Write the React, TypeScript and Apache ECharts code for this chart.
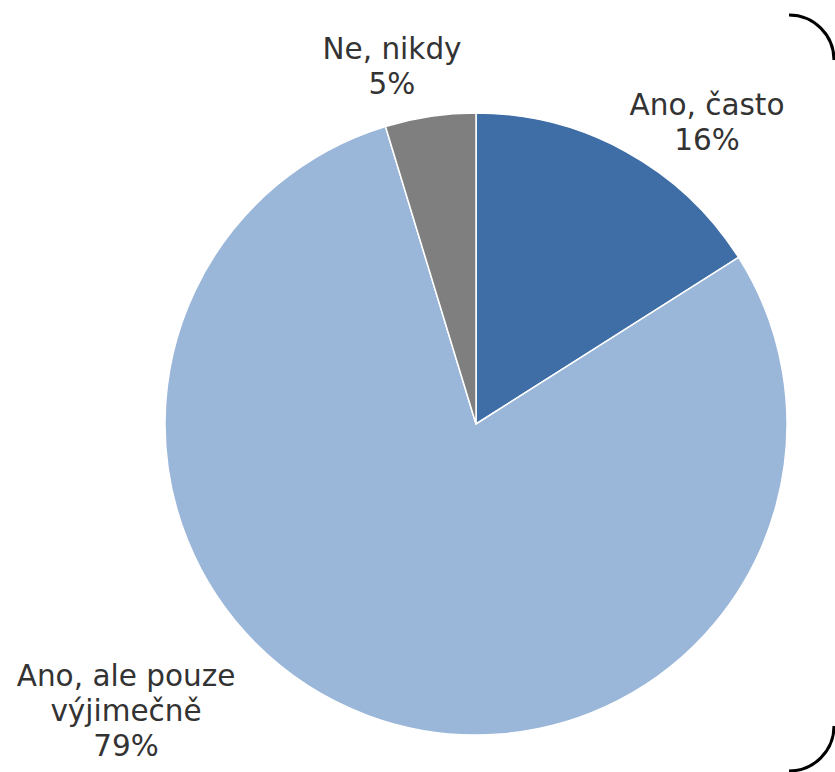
import React, { useEffect, useRef } from "react";
import * as echarts from "echarts";

const categories = ["Ano, často", "Ano, ale pouze\nvýjimečně", "Ne, nikdy"];
const values = [16.0, 79.3, 4.7];
const colors = ["#3F6EA6", "#9AB6D9", "#7F7F7F"];
const labelSpots = [
  [707, 122],
  [126, 711],
  [392, 66],
];

export default function App() {
  const ref = useRef<HTMLDivElement>(null);
  useEffect(() => {
    const chart = echarts.init(ref.current!, null, { renderer: "svg" });
    chart.setOption({
      animation: false,
      backgroundColor: "#ffffff",
      textStyle: { fontFamily: "DejaVu Sans" },
      series: [
        {
          type: "pie",
          center: [476, 424],
          radius: 311,
          startAngle: 90,
          clockwise: true,
          silent: true,
          data: categories.map((c, i) => ({
            name: c,
            value: values[i],
            itemStyle: { color: colors[i] },
          })),
          itemStyle: { borderColor: "#ffffff", borderWidth: 1.5 },
          label: {
            show: true,
            position: "outside",
            formatter: (p: any) => `${p.name}\n${Math.round(p.value)}%`,
            fontFamily: "DejaVu Sans",
            fontSize: 29.5,
            lineHeight: 35,
            color: "#333333",
            align: "center",
          },
          labelLine: { show: false },
          labelLayout: (p: any) => ({
            x: labelSpots[p.dataIndex][0],
            y: labelSpots[p.dataIndex][1],
            align: "center",
            verticalAlign: "middle",
          }),
        },
      ],
      graphic: [
        {
          type: "arc",
          shape: { cx: 789, cy: 60, r: 45, startAngle: -Math.PI / 2, endAngle: 0, clockwise: true },
          style: { stroke: "#000000", lineWidth: 3, fill: "none" },
        },
        {
          type: "arc",
          shape: { cx: 789, cy: 726, r: 45, startAngle: 0, endAngle: Math.PI / 2, clockwise: true },
          style: { stroke: "#000000", lineWidth: 3, fill: "none" },
        },
      ],
    });
    return () => chart.dispose();
  }, []);
  return (
    <div
      ref={ref}
      style={{ position: "fixed", left: 0, top: 0, width: 835, height: 772 }}
    />
  );
}
